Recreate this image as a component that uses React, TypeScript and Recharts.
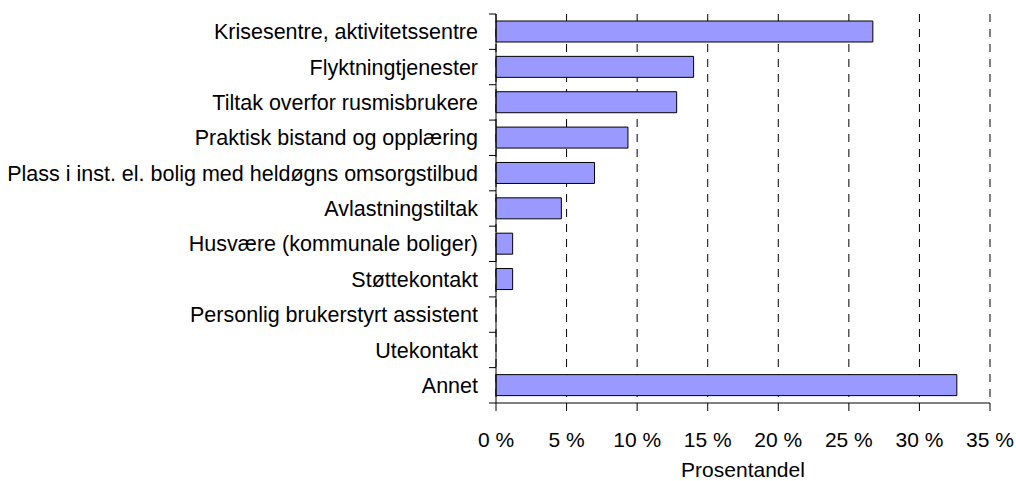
import React from 'react';
import { BarChart, Bar, XAxis, YAxis, CartesianGrid } from 'recharts';

const categories = [
  'Krisesentre, aktivitetssentre',
  'Flyktningtjenester',
  'Tiltak overfor rusmisbrukere',
  'Praktisk bistand og opplæring',
  'Plass i inst. el. bolig med heldøgns omsorgstilbud',
  'Avlastningstiltak',
  'Husvære (kommunale boliger)',
  'Støttekontakt',
  'Personlig brukerstyrt assistent',
  'Utekontakt',
  'Annet',
];
const values = [26.7, 14.0, 12.8, 9.35, 6.98, 4.63, 1.18, 1.18, 0, 0, 32.65];
const xTicks = [0, 5, 10, 15, 20, 25, 30, 35];
const axisTitle = 'Prosentandel';

const data = categories.map((name, i) => ({ name, value: values[i] }));

const W = 1016;
const H = 481;
const MARGIN = { top: 14, right: 26, left: 0, bottom: 0 };
const X_AXIS_H = 78;
const Y_AXIS_W = 496;
const TICK_SIZE = 7;
const TICK_MARGIN = 11;
const FONT = 'Liberation Sans, Arial, sans-serif';
const FS = 21.5;

const band = (H - MARGIN.top - MARGIN.bottom - X_AXIS_H) / categories.length;

const YTick = (props: any) => {
  const { x, y, payload, index } = props;
  const ax = x + TICK_MARGIN + TICK_SIZE;
  const isLast = index === categories.length - 1;
  return (
    <g>
      <line x1={ax - TICK_SIZE} x2={ax} y1={y - band / 2} y2={y - band / 2} stroke="#000" strokeWidth={1} />
      {isLast && (
        <line x1={ax - TICK_SIZE} x2={ax} y1={y + band / 2} y2={y + band / 2} stroke="#000" strokeWidth={1} />
      )}
      <text x={x} y={y} dy="0.355em" textAnchor="end" fill="#000" fontFamily={FONT} fontSize={FS}>
        {payload.value}
      </text>
    </g>
  );
};

const AxisTitle = (props: any) => {
  const vb = props.viewBox || {};
  return (
    <text
      x={vb.x + vb.width / 2}
      y={H - 4}
      textAnchor="middle"
      fill="#000"
      fontFamily={FONT}
      fontSize={21}
    >
      {axisTitle}
    </text>
  );
};

export default function App() {
  return (
    <div style={{ position: 'absolute', left: 0, top: 0, width: W, height: H, background: '#fff' }}>
      <BarChart width={W} height={H} data={data} layout="vertical" margin={MARGIN} barSize={21}>
        <CartesianGrid horizontal={false} vertical={true} stroke="#000" strokeDasharray="8 7" />
        <XAxis
          type="number"
          domain={[0, 35]}
          ticks={xTicks}
          interval={0}
          height={X_AXIS_H}
          tickSize={8}
          tickMargin={21}
          tickFormatter={(v: number) => `${v} %`}
          stroke="#000"
          tick={{ fill: '#000', fontFamily: FONT, fontSize: 21 }}
          axisLine={{ stroke: '#000' }}
          tickLine={{ stroke: '#000' }}
          label={<AxisTitle />}
        />
        <YAxis
          type="category"
          dataKey="name"
          width={Y_AXIS_W}
          tickSize={TICK_SIZE}
          tickMargin={TICK_MARGIN}
          tickLine={false}
          axisLine={{ stroke: '#000' }}
          interval={0}
          tick={<YTick />}
        />
        <Bar dataKey="value" fill="#9999FF" stroke="#000" strokeWidth={1} isAnimationActive={false} />
      </BarChart>
    </div>
  );
}
